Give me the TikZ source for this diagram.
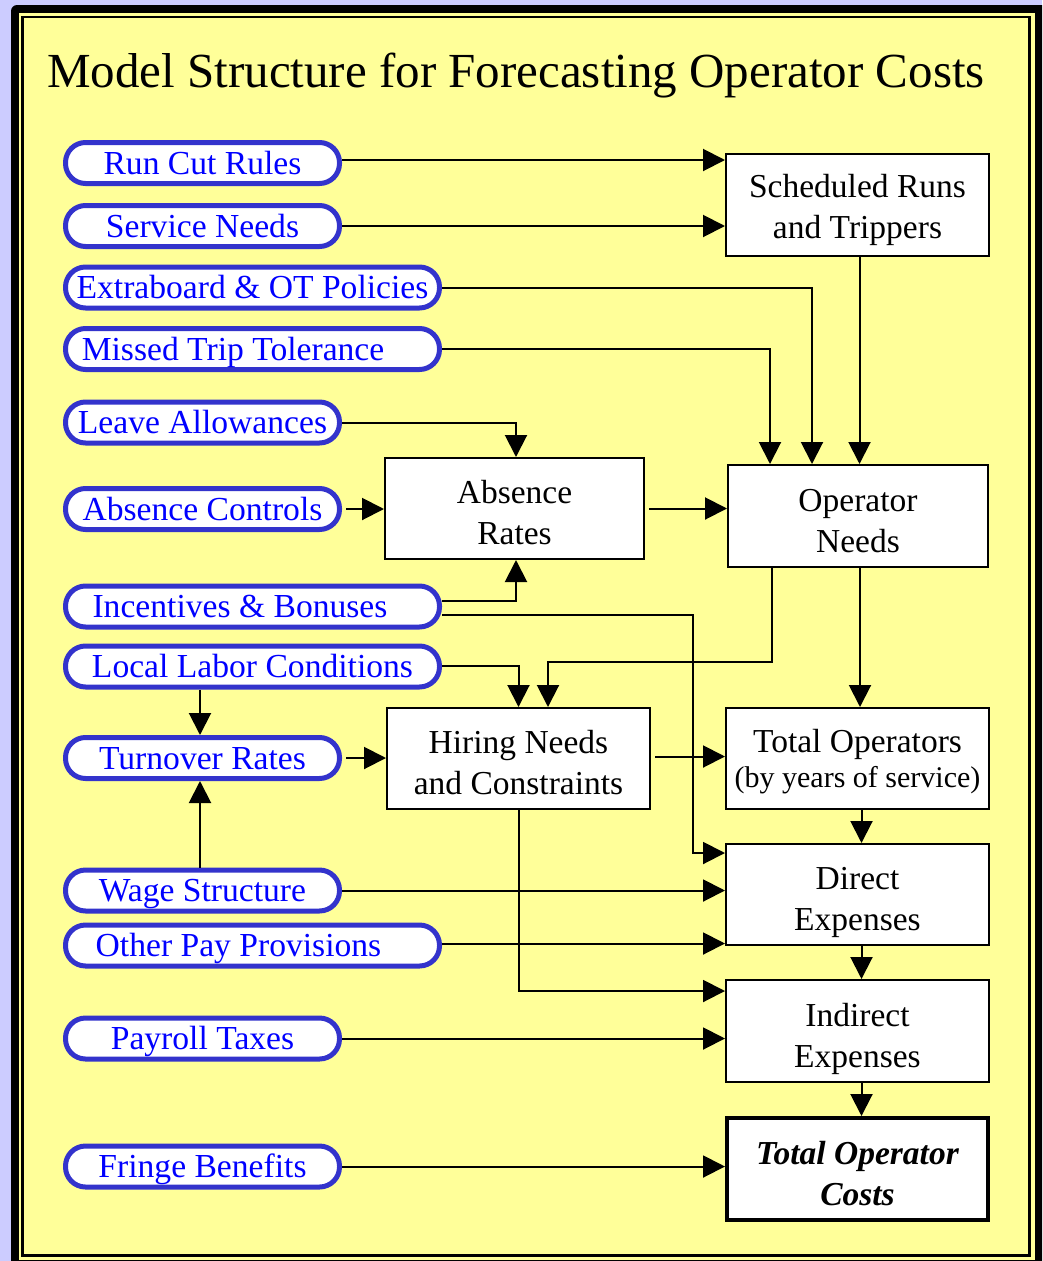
\documentclass[tikz,border=0pt]{standalone}
\usepackage{fontspec}
\setmainfont{Liberation Serif}
\usetikzlibrary{arrows.meta,calc}
\definecolor{bgl}{RGB}{204,204,255}
\definecolor{yel}{RGB}{255,255,153}
\definecolor{pillb}{RGB}{51,51,204}
\definecolor{txtb}{RGB}{0,0,255}
\begin{document}
\begin{tikzpicture}[x=1pt,y=-1pt,
  pill/.style={draw=pillb, line width=5pt, fill=white, rounded corners=20pt,
    minimum height=41pt, inner sep=0pt, text=txtb, text height=23pt, text depth=1pt,
    font=\fontsize{33.6}{38}\selectfont},
  pillS/.style={pill, minimum width=274pt},
  pillL/.style={pill, minimum width=374pt},
  box/.style={draw, line width=2pt, fill=white, align=center, inner sep=0pt,
    text height=72pt, text depth=0pt,
    minimum width=263pt, minimum height=102pt, font=\fontsize{33.5}{41}\selectfont},
  conn/.style={line width=2pt, -{Triangle[length=22pt,width=22pt]}},
  gap/.style={shorten <=4pt}]
\useasboundingbox (0,0) rectangle (1042,1261);
\clip (0,0) rectangle (1042,1261);
% frame
\fill[bgl] (0,0) rectangle (1042,1261);
\fill[black, rounded corners=6pt] (11,5) rectangle (1060,1280);
\fill[yel] (19,13.3) rectangle (1035,1260);
\draw[line width=2.5pt] (22.5,17.2) rectangle (1029.7,1255.5);
% title
\node[anchor=base west, inner sep=0pt, font=\fontsize{49}{58}\selectfont] (title) at (47,87) {Model Structure for Forecasting Operator Costs};
% pills
\node[pillS] (rc) at (202.5,163) {Run Cut Rules};
\node[pillS] (sn) at (202.5,226) {Service Needs};
\node[pillL] (eb) at (252.5,287.5) {Extraboard \& OT Policies};
\node[pillL] (mt) at (252.5,349) {Missed Trip Tolerance\hspace*{39pt}};
\node[pillS] (la) at (202.5,422.5) {Leave Allowances};
\node[pillS] (ac) at (202.5,509) {Absence Controls};
\node[pillL] (ib) at (252.5,606.5) {Incentives \& Bonuses\hspace*{25pt}};
\node[pillL] (ll) at (252.5,666.5) {Local Labor Conditions};
\node[pillS] (tr) at (202.5,758) {Turnover Rates};
\node[pillS] (ws) at (202.5,890.5) {Wage Structure};
\node[pillL] (op) at (252.5,945.5) {Other Pay Provisions\hspace*{28pt}};
\node[pillS] (pt) at (202.5,1038.5) {Payroll Taxes};
\node[pillS] (fb) at (202.5,1166.5) {Fringe Benefits};
% boxes
\node[box, text height=66pt] (A) at (857.5,205) {Scheduled Runs\\and Trippers};
\node[box, minimum width=260pt] (B) at (858,516) {Operator\\Needs};
\node[box, minimum width=259pt, minimum height=101pt] (C) at (514.5,508.5) {Absence\\Rates};
\node[box, minimum height=101pt] (D) at (518.5,758.5) {Hiring Needs\\and Constraints};
\node[box, minimum height=101pt, text height=58pt, text depth=0pt] (E) at (857.5,758.5) {Total Operators\\[-6pt]{\fontsize{30}{36}\selectfont(by years of service)}};
\node[box, minimum height=101pt] (F) at (857.5,894.5) {Direct\\Expenses};
\node[box] (G) at (857.5,1031) {Indirect\\Expenses};
\node[box, line width=4pt, minimum width=261pt, font=\fontsize{33.5}{41}\selectfont\bfseries\itshape] (H) at (857.5,1169) {Total Operator\\Costs};
% helper coordinates
\coordinate (ibk) at (693,853);
\coordinate (bd) at (548,662);
% connectors
\draw[conn] ($(rc.east)+(0,-3)$) -- ($(rc.east -| A.west)+(0,-3)$);
\draw[conn] (sn.east) -- (sn.east -| A.west);
\draw[conn] (eb.east) -| ($(B.north)+(-46,0)$);
\draw[conn] (mt.east) -| ($(B.north)+(-88,0)$);
\draw[conn] ($(A.south)+(2,0)$) -- ($(A.south |- B.north)+(2,0)$);
\draw[conn] (la.east) -| ($(C.north)+(1.5,0)$);
\draw[conn, gap] (ac.east) -- (ac.east -| C.west);
\draw[conn] ($(ib.east)+(0,-6)$) -| ($(C.south)+(1.5,0)$);
\draw[conn] ($(ib.east)+(0,8)$) -| (ibk) -- (ibk -| F.west);
\draw[conn, gap] (C.east) -- (C.east -| B.west);
\draw[conn] ($(B.south)+(-86,0)$) |- (bd) -- (bd |- D.north);
\draw[conn] ($(ll.east)+(0,-1)$) -| (D.north);
\draw[conn] ($(B.south)+(2,0)$) -- ($(B.south |- E.north)+(2,0)$);
\draw[conn] ($(tr.north |- ll.south)+(-2.5,0)$) -- ($(tr.north)+(-2.5,0)$);
\draw[conn] ($(ws.north)+(-2.5,0)$) -- ($(tr.south)+(-2.5,0)$);
\draw[conn, gap] (tr.east) -- (tr.east -| D.west);
\draw[conn, gap] ($(D.east)+(0,-2)$) -- ($(D.east -| E.west)+(0,-2)$);
\draw[conn] ($(E.south)+(4,0)$) -- ($(F.north)+(4,0)$);
\draw[conn] (D.south) |- ($(G.west)+(0,-40)$);
\draw[conn] (ws.east) -- (ws.east -| F.west);
\draw[conn] ($(op.east)+(0,-2)$) -- ($(op.east -| F.west)+(0,-2)$);
\draw[conn] ($(F.south)+(4,0)$) -- ($(G.north)+(4,0)$);
\draw[conn] (pt.east) -- (pt.east -| G.west);
\draw[conn] ($(G.south)+(4,0)$) -- ($(H.north)+(4,0)$);
\draw[conn] (fb.east) -- (fb.east -| H.west);
\end{tikzpicture}
\end{document}
